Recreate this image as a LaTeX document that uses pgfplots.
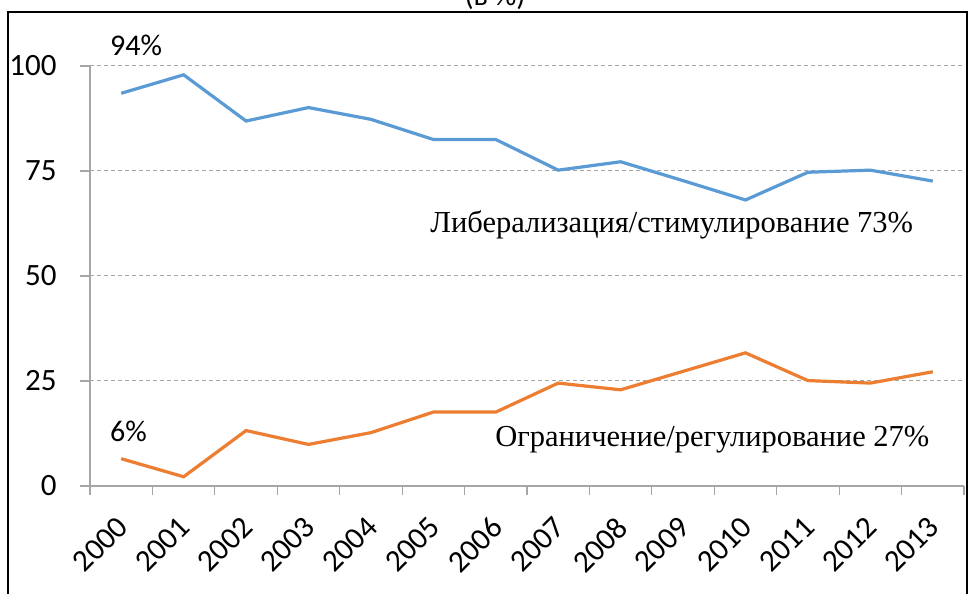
\documentclass[border=0pt]{standalone}
\usepackage{fontspec}
\setmainfont{Carlito}
\newfontfamily\timesf{Liberation Serif}
\usepackage{pgfplots}
\pgfplotsset{compat=1.18}
\definecolor{cblue}{HTML}{5B9BD5}
\definecolor{corange}{HTML}{ED7D31}
\definecolor{axgray}{HTML}{A6A6A6}
\begin{document}
\begin{tikzpicture}[x=1pt,y=1pt]
\useasboundingbox (0,0) rectangle (970,594);
\node[anchor=base, font=\fontsize{30}{34}\selectfont] at (495,588) {(в \%)};
\draw[line width=2.5pt] (8,-5) -- (8,582) -- (967,582) -- (967,-5);
\begin{axis}[
  scale only axis, width=874pt, height=420pt,
  at={(90pt,108pt)}, anchor=south west,
  xmin=-0.5, xmax=13.5, ymin=0, ymax=100,
  axis x line*=bottom, axis y line*=left,
  axis line style={axgray, line width=1.2pt},
  xtick={0,...,13},
  xticklabels={2000,2001,2002,2003,2004,2005,2006,2007,2008,2009,2010,2011,2012,2013},
  minor xtick={-0.5,0.5,...,13.5},
  every major x tick/.append style={draw=none},
  ytick={0,25,50,75,100},
  tick align=outside, major tick length=10pt, minor tick length=9pt,
  tick style={axgray, line width=1.2pt},
  ymajorgrids, grid style={gray!70, line width=1pt, dash pattern=on 4pt off 3pt},
  /pgf/number format/assume math mode=true,
  ticklabel style={font=\fontsize{31}{35}\selectfont},
  yticklabel style={xshift=-20pt},
  xticklabel style={xshift=-6pt, yshift=-14pt, rotate=45, anchor=north east},
  clip=false,
]
\addplot[cblue, line width=3.2pt] coordinates {
(0,93.5) (1,97.9) (2,86.9) (3,90.1) (4,87.3) (5,82.5) (6,82.5) (7,75.2)
(8,77.2) (9,72.7) (10,68.1) (11,74.7) (12,75.2) (13,72.6)};
\addplot[corange, line width=3.2pt] coordinates {
(0,6.5) (1,2.2) (2,13.2) (3,9.9) (4,12.7) (5,17.6) (6,17.6) (7,24.5)
(8,22.9) (9,27.3) (10,31.7) (11,25.1) (12,24.5) (13,27.2)};
\node[anchor=base west, inner sep=0pt, font=\timesf\fontsize{30.5}{34}\selectfont] at (axis cs:4.95,60.3) {Либерализация/стимулирование 73\%};
\node[anchor=base west, inner sep=0pt, font=\timesf\fontsize{30.5}{34}\selectfont] at (axis cs:5.99,9.3) {Ограничение/регулирование 27\%};
\node[anchor=base west, inner sep=0pt, font=\fontsize{30}{34}\selectfont] at (axis cs:-0.18,102.6) {94\%};
\node[anchor=base west, inner sep=0pt, font=\fontsize{30}{34}\selectfont] at (axis cs:-0.18,10.5) {6\%};
\end{axis}
\end{tikzpicture}
\end{document}
